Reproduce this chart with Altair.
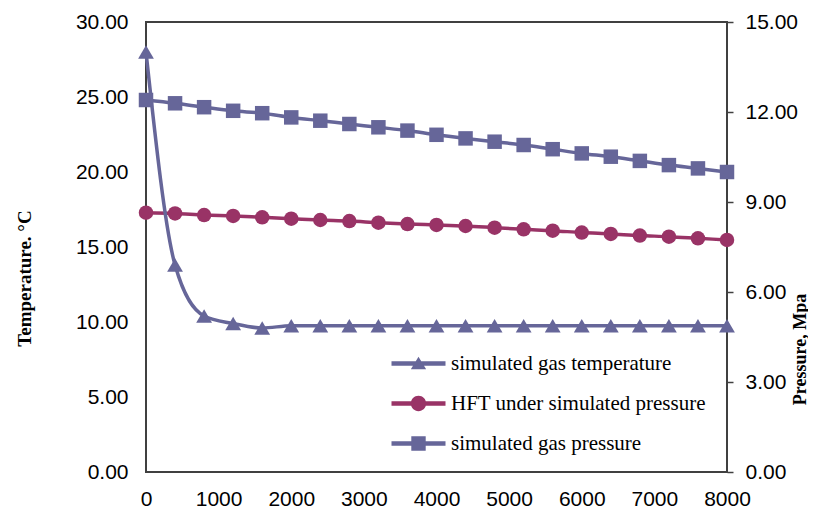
import altair as alt
import pandas as pd

# ---- data ----
depth = [0, 400, 800, 1200, 1600, 2000, 2400, 2800, 3200, 3600, 4000,
         4400, 4800, 5200, 5600, 6000, 6400, 6800, 7200, 7600, 8000]
gas_temp = [28.0, 13.8, 10.4, 9.9, 9.6, 9.75, 9.75, 9.75, 9.75, 9.75, 9.75,
            9.75, 9.75, 9.75, 9.75, 9.75, 9.75, 9.75, 9.75, 9.75, 9.75]
hft = [17.29, 17.24, 17.13, 17.07, 16.98, 16.89, 16.80, 16.73, 16.62, 16.53, 16.47,
       16.40, 16.29, 16.18, 16.09, 15.96, 15.87, 15.76, 15.69, 15.58, 15.47]
gas_pressure = [12.40, 12.29, 12.16, 12.04, 11.96, 11.82, 11.71, 11.60, 11.49, 11.38, 11.24,
                11.12, 11.01, 10.90, 10.76, 10.62, 10.51, 10.37, 10.23, 10.12, 10.00]

S_T = "simulated gas temperature"
S_H = "HFT under simulated pressure"
S_P = "simulated gas pressure"
series_names = [S_T, S_H, S_P]
BLUE = "#666699"
MAROON = "#993366"
series_colors = [BLUE, MAROON, BLUE]

x_ticks = [0, 1000, 2000, 3000, 4000, 5000, 6000, 7000, 8000]
left_ticks = [0, 5, 10, 15, 20, 25, 30]
right_ticks = [0, 3, 6, 9, 12, 15]

# legend symbols: line segment + marker (custom paths, filled)
legend_paths = [
    "M-3,-0.25H3V0.25H-3Z M0,-0.75L0.85,0.65L-0.85,0.65Z",
    "M-3,-0.25H3V0.25H-3Z M-0.85,0A0.85,0.85 0 1,1 0.85,0A0.85,0.85 0 1,1 -0.85,0Z",
    "M-3,-0.25H3V0.25H-3Z M-0.8,-0.8H0.8V0.8H-0.8Z",
]

n = len(depth)
df = pd.DataFrame({
    "depth": depth * 3,
    "value": gas_temp + hft + gas_pressure,
    "series": [S_T] * n + [S_H] * n + [S_P] * n,
})

SANS = "Liberation Sans"
SERIF = "Liberation Serif"

X = alt.X(
    "depth:Q",
    scale=alt.Scale(domain=[0, 8000], nice=False, zero=False),
    axis=alt.Axis(values=x_ticks, title=None, ticks=False, domain=False, grid=False,
                  labelFont=SANS, labelFontSize=21, labelColor="#000000",
                  labelPadding=16, labelFlush=False, format="d"),
)

Y_left = alt.Y(
    "value:Q",
    scale=alt.Scale(domain=[0, 30], nice=False, zero=False),
    axis=alt.Axis(values=left_ticks, format=".2f", title="Temperature. °C",
                  ticks=False, domain=False, grid=False,
                  labelFont=SANS, labelFontSize=21, labelColor="#000000", labelPadding=18,
                  titleFont=SERIF, titleFontSize=19, titleFontWeight="bold", titleColor="#000000",
                  titleAngle=270, titleAlign="center", titleBaseline="middle",
                  titleX=-122, titleY=256),
)

Y_right = alt.Y(
    "value:Q",
    scale=alt.Scale(domain=[0, 15], nice=False, zero=False),
    axis=alt.Axis(values=right_ticks, format=".2f", title="Pressure, Mpa", orient="right",
                  ticks=True, tickSize=6, tickColor="#404040", tickWidth=1.5,
                  domain=False, grid=False,
                  labelFont=SANS, labelFontSize=21, labelColor="#000000", labelPadding=12,
                  titleFont=SERIF, titleFontSize=18, titleFontWeight="bold", titleColor="#000000",
                  titleAngle=270, titleAlign="center", titleBaseline="middle",
                  titleX=73, titleY=327),
)

base = alt.Chart(df)


def series_line(name, color, y):
    return base.transform_filter(alt.datum.series == name).mark_line(
        color=color, strokeWidth=3.5, interpolate="monotone", clip=False
    ).encode(x=X, y=y)


def series_points(name, color, shape, size, y):
    return base.transform_filter(alt.datum.series == name).mark_point(
        shape=shape, filled=True, color=color, size=size, opacity=1, strokeWidth=0, clip=False
    ).encode(x=X, y=y)


legend_kw = dict(
    title=None, orient="none", legendX=262, legendY=331,
    labelFont=SERIF, labelFontSize=21, labelColor="#000000", labelOffset=22,
    symbolSize=324, symbolStrokeWidth=0, symbolOpacity=1, rowPadding=18, padding=0,
    labelLimit=400,
)

legend_layer = base.mark_point(filled=True, opacity=0, size=10).encode(
    x=X, y=Y_left,
    fill=alt.Fill("series:N", scale=alt.Scale(domain=series_names, range=series_colors),
                  legend=alt.Legend(**legend_kw)),
    shape=alt.Shape("series:N", scale=alt.Scale(domain=series_names, range=legend_paths),
                    legend=alt.Legend(**legend_kw)),
)

left = alt.layer(
    series_line(S_H, MAROON, Y_left),
    series_points(S_H, MAROON, "circle", 210, Y_left),
    series_line(S_T, BLUE, Y_left),
    series_points(S_T, BLUE, "triangle-up", 250, Y_left),
    legend_layer,
)

right = alt.layer(
    series_line(S_P, BLUE, Y_right),
    series_points(S_P, BLUE, "square", 210, Y_right),
)

chart = alt.layer(left, right).resolve_scale(y="independent").properties(
    width=581, height=450,
    autosize="none",
    padding={"left": 138, "top": 14, "right": 81, "bottom": 38},
    background="white",
).configure_view(stroke="#404040", strokeWidth=2)

chart.save("out.html", embed_options={"renderer": "svg", "actions": False})
